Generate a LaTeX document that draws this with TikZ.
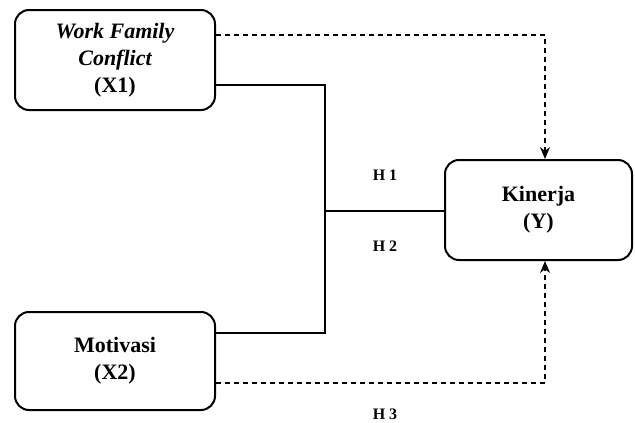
\documentclass[tikz,border=0pt]{standalone}
\usepackage{fontspec}
\setmainfont{Liberation Serif}
\usetikzlibrary{arrows.meta}
\begin{document}
\begin{tikzpicture}[x=1pt,y=-1pt,
  varbox/.style={draw,line width=2pt,rounded corners=14pt,minimum width=200pt,anchor=center,align=center,
     font=\fontsize{22}{27}\selectfont\bfseries,inner sep=0pt},
  hlabel/.style={font=\fontsize{16}{19}\selectfont\bfseries,inner sep=0pt},
  solidline/.style={line width=1.3pt},
  dashline/.style={line width=1.3pt,dash pattern=on 5pt off 4pt},
  tip/.style={-{Stealth[length=12pt,width=10pt]}}]
\useasboundingbox (0,0) rectangle (635,423);
\node[varbox,minimum height=100pt] (x1) at (115,60) {\itshape Work Family\\\itshape Conflict\\(X1)};
\node[varbox,minimum height=98pt] (x2) at (115,361) {Motivasi\\(X2)};
\node[varbox,minimum width=187pt,minimum height=100pt] (y) at (538.5,210) {Kinerja\\(Y)};
\coordinate (j) at (325,211);
\coordinate (t1) at (545,35);
\coordinate (t2) at (545,383);
\draw[solidline] ([yshift=-25pt]x1.east) -| (j) |- ([yshift=28pt]x2.east);
\draw[solidline] (j) -- (y.west |- j);
\draw[dashline,tip] ([yshift=25pt]x1.east) -- (t1) -- (y.north -| t1);
\draw[dashline,tip] ([yshift=-22pt]x2.east) -- (t2) -- (y.south -| t2);
\node[hlabel] (h1) at (385,175) {H 1};
\node[hlabel] (h2) at (385,246) {H 2};
\node[hlabel] (h3) at (385,414) {H 3};
\end{tikzpicture}
\end{document}
